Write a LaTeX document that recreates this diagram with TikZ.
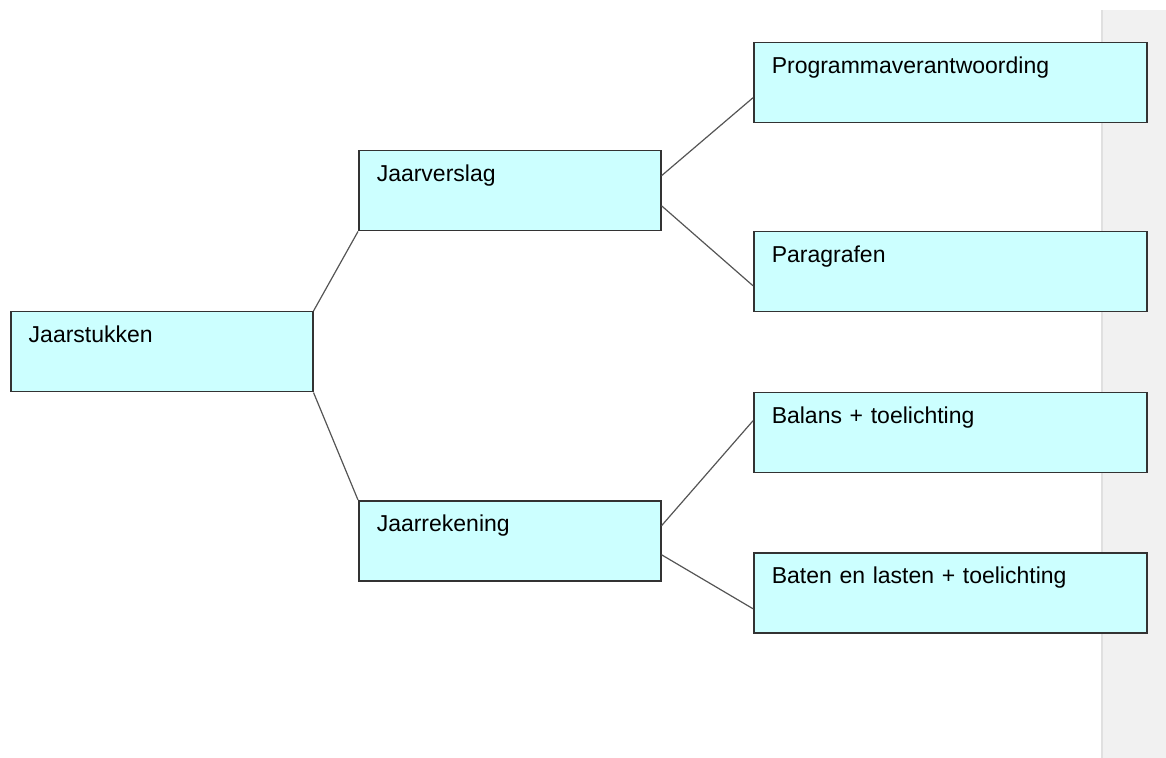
\documentclass[tikz,border=0pt]{standalone}
\usepackage{fontspec}
\setmainfont{Liberation Sans}
\definecolor{boxcyan}{RGB}{204, 255, 255}
\definecolor{edgegray}{RGB}{51, 51, 51}
\definecolor{linkgray}{RGB}{85, 85, 85}
\definecolor{panelgray}{RGB}{241, 241, 241}
\usepackage{tikz}

\begin{document}
\begin{tikzpicture}[
  x=0.5pt, y=-0.5pt,
  tbox/.style={draw=edgegray, line width=0.75pt, fill=boxcyan, anchor=north west, align=left, text width=133pt, inner xsep=9pt, inner ysep=0pt, text height=15.5pt, text depth=24.5pt, font=\fontsize{11.5}{13}\selectfont},
  wbox/.style={tbox, text width=178.5pt},
  link/.style={draw=linkgray, line width=0.6pt}
]
  \useasboundingbox (0,0) rectangle (1166,758);
  \fill[panelgray] (1102,10) rectangle (1166,758);
  \draw[black!12, line width=1pt] (1102,10) -- (1102,758);

  \node[tbox] (stukken) at (10,311) {Jaarstukken};
  \node[tbox] (verslag) at (358,150) {Jaarverslag};
  \node[tbox] (rekening) at (358,500) {Jaarrekening};
  \node[wbox] (programma) at (753,42) {Programmaverantwoording};
  \node[wbox] (paragrafen) at (753,231) {Paragrafen};
  \node[wbox] (balans) at (753,392) {Balans + toelichting};
  \node[wbox] (baten) at (753,552) {Baten en lasten + toelichting};

  \draw[link] (stukken.north east) -- (verslag.south west);
  \draw[link] (stukken.south east) -- (rekening.north west);
  \draw[link] ([yshift=7.5pt]verslag.east) -- ([yshift=-7.5pt]programma.west);
  \draw[link] ([yshift=-7.5pt]verslag.east) -- ([yshift=-7pt]paragrafen.west);
  \draw[link] ([yshift=7.5pt]rekening.east) -- ([yshift=6pt]balans.west);
  \draw[link] ([yshift=-7pt]rekening.east) -- ([yshift=-8pt]baten.west);
\end{tikzpicture}
\end{document}
